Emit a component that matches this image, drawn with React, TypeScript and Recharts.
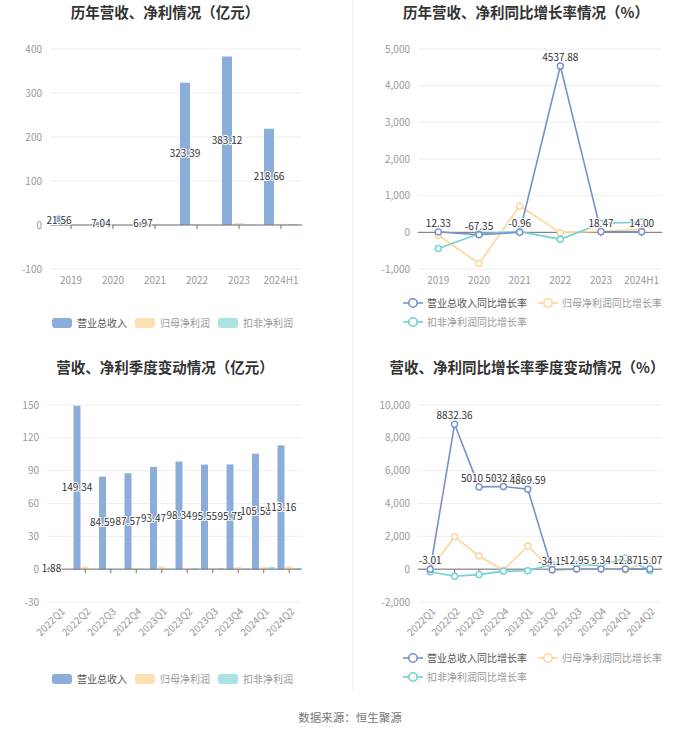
import React from "react";
import {
  BarChart,
  Bar,
  LineChart,
  Line,
  XAxis,
  YAxis,
  CartesianGrid,
  ReferenceLine,
  LabelList,
} from "recharts";

// annual, 亿元
const years = ["2019", "2020", "2021", "2022", "2023", "2024H1"];
const yearRevenue = [21.56, 7.04, 6.97, 323.39, 383.12, 218.66];
const yearNetProfit = [0.45, -0.6, 2.1, 2.4, 4.6, 3.1];
const yearDeducted = [0.1, 0.05, 0.2, 0.3, 1.2, 1.9];

// annual growth, %
const yearRevenueGrowth = [12.33, -67.35, -0.96, 4537.88, 18.47, 14.0];
const yearNetProfitGrowth = [-80, -850, 720, -10, 30, 80];
const yearDeductedGrowth = [-440, -40, 20, -190, 240, 280];

// quarterly, 亿元
const quarters = [
  "2022Q1", "2022Q2", "2022Q3", "2022Q4", "2023Q1",
  "2023Q2", "2023Q3", "2023Q4", "2024Q1", "2024Q2",
];
const qRevenue = [1.88, 149.34, 84.59, 87.57, 93.47, 98.34, 95.55, 95.75, 105.5, 113.16];
const qNetProfit = [0.2, 2.6, 0.9, 0.8, 2.6, 0.3, 1.1, 1.9, 2.2, 2.6];
const qDeducted = [0.05, 0.3, 0.2, 0.2, 0.3, 1.0, 1.0, 0.9, 2.1, 1.1];

// quarterly growth, %
const qRevenueGrowth = [-3.01, 8832.36, 5010.58, 5032.03, 4869.59, -34.15, 12.95, 9.34, 12.87, 15.07];
const qNetProfitGrowth = [-20, 1980, 800, -60, 1410, -60, 10, 30, -50, 550];
const qDeductedGrowth = [-160, -430, -330, -120, -100, 290, 290, 230, 690, -80];

const barNames = ["营业总收入", "归母净利润", "扣非净利润"];
const lineNames = ["营业总收入同比增长率", "归母净利润同比增长率", "扣非净利润同比增长率"];

const FONT = '"Noto Sans CJK SC", "Noto Sans", sans-serif';
const BAR_COLORS = ["#8badda", "#fde0b2", "#abe2e4"];
const LINE_COLORS = ["#7392cb", "#fcd598", "#6fd0d5"];
const AXIS = "#6e7079";
const TICK = { fontSize: 10, fill: "#999", fontFamily: FONT };

const fmtNum = (v: number) => v.toLocaleString("en-US");
const fmt2 = (v: any) => Number(v).toFixed(2);

function RotTick(props: any) {
  const { x, y, payload } = props;
  return (
    <g transform={`translate(${x + 1},${y - 3})`}>
      <text x={0} y={0} dy="0.7em" textAnchor="end" transform="rotate(-45)" {...TICK}>
        {payload.value}
      </text>
    </g>
  );
}

function Title({ text, cx, cy }: { text: string; cx: number; cy: number }) {
  return (
    <div
      style={{
        position: "absolute",
        left: cx - 170,
        width: 340,
        top: cy - 11,
        textAlign: "center",
        fontSize: 14.5,
        fontWeight: 700,
        color: "#333",
        lineHeight: "22px",
        fontFamily: FONT,
      }}
    >
      {text}
    </div>
  );
}

function BarLegend({ left, top }: { left: number; top: number }) {
  return (
    <div style={{ position: "absolute", left, top, display: "flex", alignItems: "center", fontFamily: FONT }}>
      {barNames.map((n, i) => (
        <div key={n} style={{ display: "flex", alignItems: "center", marginRight: 8 }}>
          <div style={{ width: 20, height: 10, borderRadius: 3, background: BAR_COLORS[i], marginRight: 5 }} />
          <span style={{ fontSize: 10, lineHeight: "12px", color: i === 0 ? "#555" : "#999" }}>{n}</span>
        </div>
      ))}
    </div>
  );
}

function LineLegend({ left, top }: { left: number; top: number }) {
  return (
    <div
      style={{
        position: "absolute",
        left,
        top,
        width: 290,
        display: "flex",
        flexWrap: "wrap",
        rowGap: 7,
        fontFamily: FONT,
      }}
    >
      {lineNames.map((n, i) => (
        <div key={n} style={{ display: "flex", alignItems: "center", marginRight: 11 }}>
          <svg width={20} height={12} style={{ marginRight: 4 }}>
            <line x1={0} y1={6} x2={20} y2={6} stroke={LINE_COLORS[i]} strokeWidth={1.6} />
            <circle cx={10} cy={6} r={4.2} fill="#fff" stroke={LINE_COLORS[i]} strokeWidth={1.6} />
          </svg>
          <span style={{ fontSize: 10, lineHeight: "12px", color: i === 0 ? "#555" : "#999" }}>{n}</span>
        </div>
      ))}
    </div>
  );
}

interface BarPanelProps {
  categories: string[];
  rev: number[];
  net: number[];
  ded: number[];
  domain: [number, number];
  ticks: number[];
  margin: { top: number; right: number; left: number; bottom: number };
  yWidth: number;
  xHeight: number;
  rotate?: boolean;
  tickDepth: number;
  catGap: number;
  barGap: number;
}

function BarPanel(p: BarPanelProps) {
  const data = p.categories.map((c, i) => ({ name: c, rev: p.rev[i], net: p.net[i], ded: p.ded[i] }));
  return (
    <BarChart width={350} height={300} data={data} margin={p.margin} barCategoryGap={p.catGap} barGap={p.barGap}>
      <CartesianGrid vertical={false} stroke="#eeeeee" />
      <XAxis
        dataKey="name"
        axisLine={false}
        tickLine={false}
        height={p.xHeight}
        interval={0}
        tick={p.rotate ? <RotTick /> : TICK}
      />
      <YAxis
        width={p.yWidth}
        domain={p.domain}
        ticks={p.ticks}
        axisLine={false}
        tickLine={false}
        tick={TICK}
      />
      <ReferenceLine y={0} stroke={AXIS} />
      {p.categories.map((c) => (
        <ReferenceLine key={c} segment={[{ x: c, y: 0 }, { x: c, y: -p.tickDepth }]} stroke={AXIS} />
      ))}
      <Bar dataKey="rev" fill={BAR_COLORS[0]} isAnimationActive={false}>
        <LabelList
          dataKey="rev"
          position="center"
          formatter={fmt2}
          style={{ fontSize: 10, fill: "#333", fontFamily: FONT, stroke: "#fff", strokeWidth: 2, paintOrder: "stroke" }}
        />
      </Bar>
      <Bar dataKey="net" fill={BAR_COLORS[1]} isAnimationActive={false} />
      <Bar dataKey="ded" fill={BAR_COLORS[2]} isAnimationActive={false} />
    </BarChart>
  );
}

interface LinePanelProps {
  categories: string[];
  rev: number[];
  net: number[];
  ded: number[];
  domain: [number, number];
  ticks: number[];
  margin: { top: number; right: number; left: number; bottom: number };
  yWidth: number;
  xHeight: number;
  rotate?: boolean;
  tickDepth: number;
}

function LinePanel(p: LinePanelProps) {
  const data = p.categories.map((c, i) => ({ name: c, rev: p.rev[i], net: p.net[i], ded: p.ded[i] }));
  const dot = (color: string) => ({ r: 3, fill: "#fff", stroke: color, strokeWidth: 1.4 });
  return (
    <LineChart width={350} height={300} data={data} margin={p.margin}>
      <CartesianGrid vertical={false} stroke="#eeeeee" />
      <XAxis
        dataKey="name"
        scale="band"
        axisLine={false}
        tickLine={false}
        height={p.xHeight}
        interval={0}
        tick={p.rotate ? <RotTick /> : TICK}
      />
      <YAxis
        width={p.yWidth}
        domain={p.domain}
        ticks={p.ticks}
        axisLine={false}
        tickLine={false}
        tick={TICK}
        tickFormatter={fmtNum}
      />
      <ReferenceLine y={0} stroke={AXIS} />
      {p.categories.map((c) => (
        <ReferenceLine key={c} segment={[{ x: c, y: 0 }, { x: c, y: -p.tickDepth }]} stroke={AXIS} />
      ))}
      <Line dataKey="net" stroke={LINE_COLORS[1]} strokeWidth={1.6} dot={dot(LINE_COLORS[1])} isAnimationActive={false} />
      <Line dataKey="ded" stroke={LINE_COLORS[2]} strokeWidth={1.6} dot={dot(LINE_COLORS[2])} isAnimationActive={false} />
      <Line dataKey="rev" stroke={LINE_COLORS[0]} strokeWidth={1.6} dot={dot(LINE_COLORS[0])} isAnimationActive={false}>
        <LabelList
          dataKey="rev"
          position="top"
          offset={5}
          formatter={fmt2}
          style={{ fontSize: 10, fill: "#333", fontFamily: FONT, stroke: "#fff", strokeWidth: 2, paintOrder: "stroke" }}
        />
      </Line>
    </LineChart>
  );
}

export default function App() {
  return (
    <div
      style={{
        position: "absolute",
        left: 0,
        top: 0,
        width: 700,
        height: 734,
        background: "#fff",
        fontFamily: FONT,
        overflow: "hidden",
      }}
    >
      <div style={{ position: "absolute", left: 352, top: 0, width: 1, height: 690, background: "#f2f2f2" }} />

      <Title text="历年营收、净利情况（亿元）" cx={165} cy={12} />
      <div style={{ position: "absolute", left: 0, top: 0 }}>
        <BarPanel
          categories={years}
          rev={yearRevenue}
          net={yearNetProfit}
          ded={yearDeducted}
          domain={[-100, 400]}
          ticks={[-100, 0, 100, 200, 300, 400]}
          margin={{ top: 49, right: 48, left: 0, bottom: 0 }}
          yWidth={50}
          xHeight={31}
          tickDepth={9}
          catGap={4}
          barGap={2}
        />
      </div>
      <BarLegend left={52} top={317} />

      <Title text="历年营收、净利同比增长率情况（%）" cx={526} cy={12} />
      <div style={{ position: "absolute", left: 350, top: 0 }}>
        <LinePanel
          categories={years}
          rev={yearRevenueGrowth}
          net={yearNetProfitGrowth}
          ded={yearDeductedGrowth}
          domain={[-1000, 5000]}
          ticks={[-1000, 0, 1000, 2000, 3000, 4000, 5000]}
          margin={{ top: 49, right: 38, left: 0, bottom: 0 }}
          yWidth={68}
          xHeight={31}
          tickDepth={110}
        />
      </div>
      <LineLegend left={403} top={297} />

      <Title text="营收、净利季度变动情况（亿元）" cx={165} cy={367} />
      <div style={{ position: "absolute", left: 0, top: 345 }}>
        <BarPanel
          categories={quarters}
          rev={qRevenue}
          net={qNetProfit}
          ded={qDeducted}
          domain={[-30, 150]}
          ticks={[-30, 0, 30, 60, 90, 120, 150]}
          margin={{ top: 60, right: 48, left: 0, bottom: 0 }}
          yWidth={47}
          xHeight={43}
          rotate
          tickDepth={3.7}
          catGap={1}
          barGap={1}
        />
      </div>
      <BarLegend left={52} top={673} />

      <Title text="营收、净利同比增长率季度变动情况（%）" cx={527} cy={367} />
      <div style={{ position: "absolute", left: 350, top: 345 }}>
        <LinePanel
          categories={quarters}
          rev={qRevenueGrowth}
          net={qNetProfitGrowth}
          ded={qDeductedGrowth}
          domain={[-2000, 10000]}
          ticks={[-2000, 0, 2000, 4000, 6000, 8000, 10000]}
          margin={{ top: 60, right: 38, left: 0, bottom: 0 }}
          yWidth={68}
          xHeight={43}
          rotate
          tickDepth={245}
        />
      </div>
      <LineLegend left={403} top={652} />

      <div
        style={{
          position: "absolute",
          left: 0,
          width: 700,
          top: 709,
          textAlign: "center",
          fontSize: 11.5,
          color: "#777",
          fontFamily: FONT,
          lineHeight: "16px",
        }}
      >
        数据来源：恒生聚源
      </div>
    </div>
  );
}
